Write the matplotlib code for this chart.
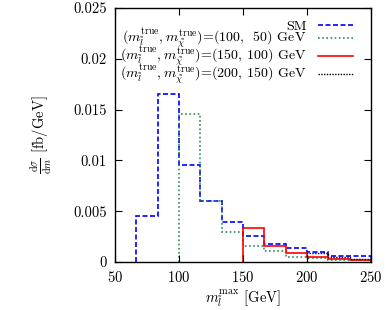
import matplotlib
matplotlib.use("Agg")
import matplotlib.pyplot as plt
import numpy as np
from matplotlib.ticker import FuncFormatter

plt.rcParams["font.family"] = "serif"
plt.rcParams["font.serif"] = ["cmr10", "DejaVu Serif"]
plt.rcParams["mathtext.fontset"] = "cm"
plt.rcParams["axes.formatter.use_mathtext"] = True
plt.rcParams["font.size"] = 10.5

# bin edges (12 bins of 50/3 GeV between 50 and 250)
edges = np.linspace(50, 250, 13)

# distributions, each starting at its own first bin
sm = [0.0045, 0.0165, 0.0095, 0.0060, 0.0039, 0.0026, 0.0018, 0.0014, 0.00095, 0.0006, 0.0006]
pt_100_50 = [0.0146, 0.0060, 0.0029, 0.0016, 0.0011, 0.0005, 0.0004, 0.0002, 0.00015]
pt_150_100 = [0.0033, 0.0016, 0.0009, 0.0005, 0.00028, 0.0002]
pt_200_150 = [0.0009, 0.00045, 0.0003]

labels = [
    "SM",
    r"$(m_{\tilde{l}}^{\rm true},m_{\tilde{\chi}}^{\rm true})$=(100,  50) GeV",
    r"$(m_{\tilde{l}}^{\rm true},m_{\tilde{\chi}}^{\rm true})$=(150, 100) GeV",
    r"$(m_{\tilde{l}}^{\rm true},m_{\tilde{\chi}}^{\rm true})$=(200, 150) GeV",
]

fig = plt.figure(figsize=(3.86, 3.10), dpi=100)
ax = fig.add_axes([0.298, 0.155, 0.663, 0.819])


def step(vals, color, ls, lw, label):
    e = edges[len(edges) - len(vals) - 1:]
    ax.stairs(vals, e, baseline=0, color=color, linestyle=ls, linewidth=lw, label=label)


step(sm, "#0000ff", (0, (3, 1.5)), 1.2, labels[0])
step(pt_100_50, "#2e8b57", (0, (1, 1.5)), 1.2, labels[1])
step(pt_150_100, "#ff0000", "-", 1.2, labels[2])
step(pt_200_150, "#000000", (0, (1, 1)), 1.0, labels[3])

ax.set_xlim(50, 250)
ax.set_ylim(0, 0.025)
ax.set_xticks([50, 100, 150, 200, 250])
ax.set_yticks([0, 0.005, 0.01, 0.015, 0.02, 0.025])
ax.yaxis.set_major_formatter(FuncFormatter(lambda v, p: "%g" % v))
ax.tick_params(direction="in", top=True, right=True, length=5, pad=6)
for s in ax.spines.values():
    s.set_linewidth(1.0)

ax.set_xlabel(r"$m_{\tilde{l}}^{\rm max}$ [GeV]", labelpad=2)
ax.set_ylabel(r"$\frac{{\rm d}\sigma}{{\rm d}m}$ [fb/GeV]", labelpad=14)

ax.legend(loc="upper right", bbox_to_anchor=(1.0, 1.025), frameon=False,
          markerfirst=False, handlelength=2.5, handletextpad=0.8,
          labelspacing=-0.42, borderaxespad=0.9, fontsize=10.1)

fig.savefig("out.png", dpi=100)
